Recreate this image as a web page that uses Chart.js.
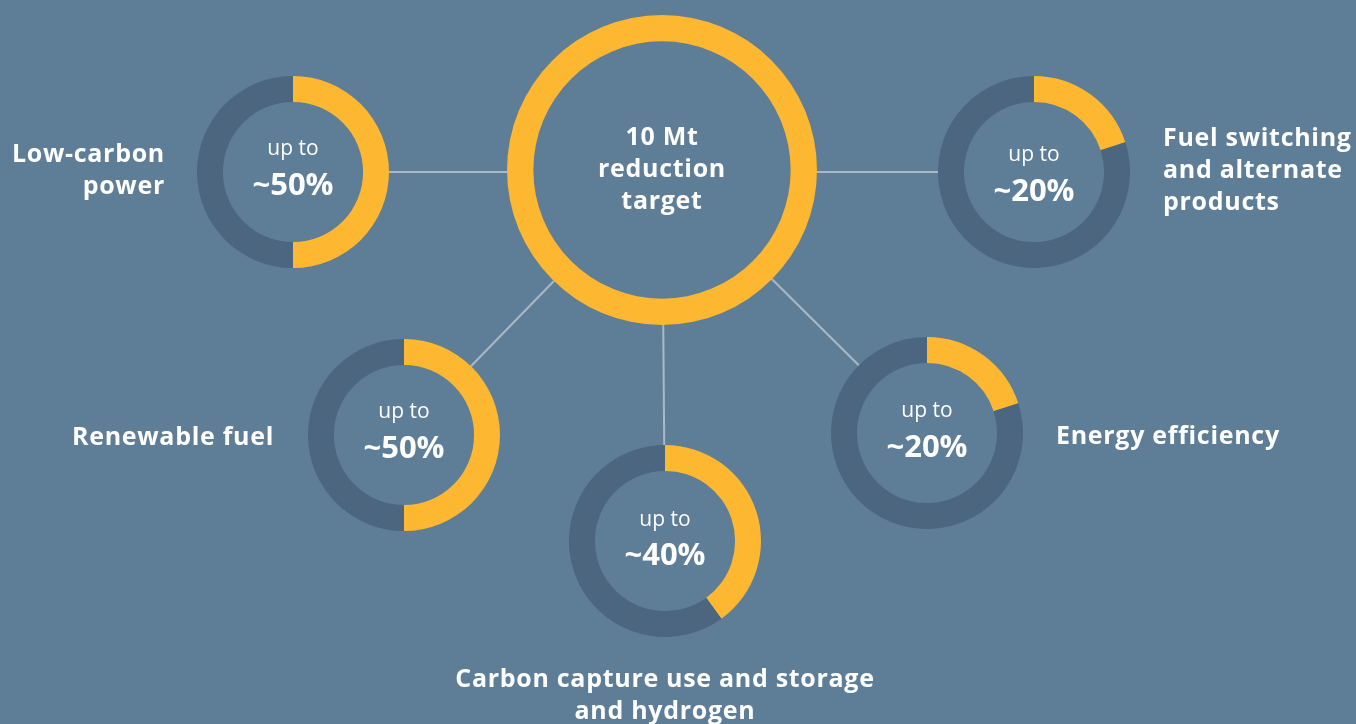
<!DOCTYPE html>
<html>
<head>
<meta charset="utf-8">
<script src="https://cdn.jsdelivr.net/npm/chart.js@4.4.1/dist/chart.umd.min.js"></script>
<style>
    html, body { margin: 0; padding: 0; }
    body { width: 1356px; height: 724px; background: #5e7d96; position: relative; overflow: hidden; font-family: 'Open Sans', 'Noto Sans', sans-serif; color: #fff; }
    .abs { position: absolute; }
    .label { font-weight: 700; font-size: 25px; letter-spacing: 0.7px; line-height: 32px; white-space: nowrap; transform: translateY(-50%); }
    .upto { font-size: 21px; line-height: 24px; transform: translate(-50%, -50%); white-space: nowrap; }
    .pct { font-weight: 700; font-size: 31px; line-height: 34px; transform: translate(-50%, -50%); white-space: nowrap; }
</style>
</head>
<body>
<canvas id="spokes" class="abs" style="left:0;top:0;width:1356px;height:724px"></canvas>
<script>
// Data
const categories = ['Low-carbon power', 'Fuel switching and alternate products', 'Renewable fuel', 'Carbon capture use and storage and hydrogen', 'Energy efficiency'];
const shares = [50, 20, 50, 40, 20];
const labelLines = [['Low-carbon', 'power'], ['Fuel switching', 'and alternate', 'products'], ['Renewable fuel'], ['Carbon capture use and storage', 'and hydrogen'], ['Energy efficiency']];
const hubLines = ['10 Mt', 'reduction', 'target'];
const prefix = 'up to';

const YELLOW = '#fdb731';
const DARK = '#4b667e';
const BG = '#5e7d96';
const LINE = '#a9b9c6';

// Layout (pixels)
const hub = { x: 662, y: 170, r: 155, cutout: '83%' };
const nodes = [
    { x: 293, y: 172, r: 96 },
    { x: 1034, y: 172, r: 96 },
    { x: 404, y: 435, r: 96 },
    { x: 665, y: 541, r: 96 },
    { x: 927, y: 433, r: 96 }
];
const textOffsets = [[-25, 11], [-19, 17], [-25, 11], [-23, 12], [-24, 12]];
const labelPos = [
    { x: 165, y: 168, align: 'right' },
    { x: 1163, y: 168, align: 'left' },
    { x: 274, y: 435, align: 'right' },
    { x: 665, y: 693, align: 'center' },
    { x: 1056, y: 434, align: 'left' }
];

// Spokes: one line dataset from the hub to each node, on pixel scales
new Chart(document.getElementById('spokes'), {
    type: 'scatter',
    data: {
        datasets: nodes.map(n => ({
            data: [{ x: hub.x, y: n.y === 172 ? n.y : hub.y }, { x: n.x, y: n.y }],
            showLine: true,
            borderColor: LINE,
            borderWidth: 2,
            pointRadius: 0
        }))
    },
    options: {
        responsive: false,
        animation: false,
        layout: { padding: 0 },
        plugins: { legend: { display: false }, tooltip: { enabled: false } },
        scales: {
            x: { type: 'linear', min: 0, max: 1356, display: false },
            y: { type: 'linear', min: 0, max: 724, reverse: true, display: false }
        }
    }
});

// Fill the ring's disc with the page colour so spokes stop at the ring
const discFill = {
    id: 'discFill',
    beforeDatasetsDraw(chart) {
        const arc = chart.getDatasetMeta(0).data[0];
        if (!arc) return;
        const { ctx } = chart;
        ctx.save();
        ctx.fillStyle = BG;
        ctx.beginPath();
        ctx.arc(arc.x, arc.y, arc.outerRadius, 0, Math.PI * 2);
        ctx.fill();
        ctx.restore();
    }
};

function ring(pos, values, colors, cutout) {
    const box = document.createElement('div');
    box.className = 'abs';
    box.style.left = (pos.x - pos.r) + 'px';
    box.style.top = (pos.y - pos.r) + 'px';
    box.style.width = (pos.r * 2) + 'px';
    box.style.height = (pos.r * 2) + 'px';
    const canvas = document.createElement('canvas');
    box.appendChild(canvas);
    document.body.appendChild(box);
    new Chart(canvas, {
        type: 'doughnut',
        data: { datasets: [{ data: values, backgroundColor: colors, borderWidth: 0 }] },
        options: {
            responsive: true,
            maintainAspectRatio: false,
            animation: false,
            cutout,
            layout: { padding: 0 },
            plugins: { legend: { display: false }, tooltip: { enabled: false } }
        },
        plugins: [discFill]
    });
}

function addText(cls, text, x, y) {
    const el = document.createElement('div');
    el.className = 'abs ' + cls;
    el.textContent = text;
    el.style.left = x + 'px';
    el.style.top = y + 'px';
    document.body.appendChild(el);
    return el;
}

// Hub ring
ring(hub, [1], [YELLOW], hub.cutout);
const hubText = document.createElement('div');
hubText.className = 'abs label';
hubText.style.left = (hub.x - 150) + 'px';
hubText.style.width = '300px';
hubText.style.top = (hub.y - 3) + 'px';
hubText.style.textAlign = 'center';
hubText.innerHTML = hubLines.join('<br>');
document.body.appendChild(hubText);

// Category rings
categories.forEach((cat, i) => {
    const n = nodes[i];
    ring(n, [shares[i], 100 - shares[i]], [YELLOW, DARK], '73%');
    addText('upto', prefix, n.x, n.y + textOffsets[i][0]);
    addText('pct', '~' + shares[i] + '%', n.x, n.y + textOffsets[i][1]);

    const p = labelPos[i];
    const el = document.createElement('div');
    el.className = 'abs label';
    el.innerHTML = labelLines[i].join('<br>');
    el.style.top = p.y + 'px';
    el.style.textAlign = p.align;
    if (p.align === 'right') el.style.right = (1356 - p.x) + 'px';
    else if (p.align === 'left') el.style.left = p.x + 'px';
    else { el.style.left = (p.x - 250) + 'px'; el.style.width = '500px'; }
    el.title = cat;
    document.body.appendChild(el);
});
</script>
</body>
</html>
